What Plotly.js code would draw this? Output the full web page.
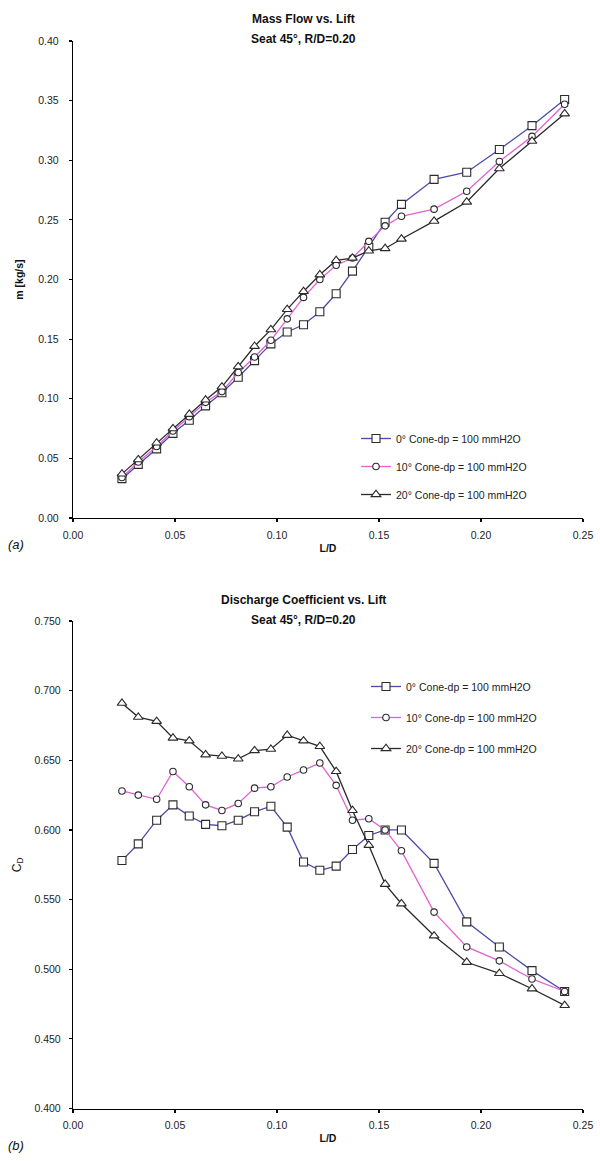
<!DOCTYPE html>
<html>
<head>
<meta charset="utf-8">
<script src="https://cdn.plot.ly/plotly-3.0.1.min.js"></script>
<style>
  html, body { margin: 0; padding: 0; background: #fff; }
  #chart { width: 600px; height: 1161px; }
</style>
</head>
<body>
<div id="chart"></div>
<script>
// ---- data ----
const liftRatio = [0.024,0.032,0.041,0.049,0.057,0.065,0.073,0.081,0.089,0.097,0.105,0.113,0.121,0.129,0.137,0.145,0.153,0.161,0.177,0.193,0.209,0.225,0.241];

const massFlow0  = [0.033,0.045,0.058,0.071,0.082,0.094,0.105,0.118,0.132,0.146,0.156,0.162,0.173,0.188,0.207,0.227,0.248,0.263,0.284,0.290,0.309,0.329,0.351];
const massFlow10 = [0.034,0.047,0.060,0.073,0.085,0.097,0.106,0.122,0.135,0.149,0.167,0.185,0.200,0.212,0.218,0.232,0.245,0.253,0.259,0.274,0.299,0.320,0.347];
const massFlow20 = [0.037,0.049,0.063,0.075,0.087,0.099,0.110,0.127,0.144,0.158,0.175,0.190,0.204,0.216,0.218,0.224,0.226,0.234,0.249,0.265,0.293,0.316,0.339];

const cd0  = [0.578,0.590,0.607,0.618,0.610,0.604,0.603,0.607,0.613,0.617,0.602,0.577,0.571,0.574,0.586,0.596,0.600,0.600,0.576,0.534,0.516,0.499,0.484];
const cd10 = [0.628,0.625,0.622,0.642,0.631,0.618,0.614,0.619,0.630,0.631,0.638,0.643,0.648,0.632,0.607,0.608,0.600,0.585,0.541,0.516,0.506,0.493,0.484];
const cd20 = [0.691,0.681,0.678,0.666,0.664,0.654,0.653,0.651,0.657,0.658,0.668,0.664,0.660,0.642,0.614,0.589,0.561,0.547,0.524,0.505,0.497,0.486,0.474];

const seriesNames = ['0° Cone-dp = 100 mmH2O', '10° Cone-dp = 100 mmH2O', '20° Cone-dp = 100 mmH2O'];
const xTickVals  = [0.00, 0.05, 0.10, 0.15, 0.20, 0.25];
const yTickVals1 = [0.00, 0.05, 0.10, 0.15, 0.20, 0.25, 0.30, 0.35, 0.40];
const yTickVals2 = [0.400, 0.450, 0.500, 0.550, 0.600, 0.650, 0.700, 0.750];
const titleTop    = ['Mass Flow vs. Lift', 'Seat 45°, R/D=0.20'];
const titleBottom = ['Discharge Coefficient vs. Lift', 'Seat 45°, R/D=0.20'];

// ---- styles ----
const FONT = 'Liberation Sans, Arial, Helvetica, sans-serif';
const lineColors = ['#4b4ba6', '#e062d4', '#2a2a2a'];
const symbols = ['square', 'circle', 'triangle-up'];
const msizes = [8, 6.5, 8.5];

function mk(y, i, xa, ya, lg) {
  return {
    x: liftRatio, y: y, type: 'scatter', mode: 'lines+markers',
    name: seriesNames[i], legend: lg, legendgroup: lg + i,
    xaxis: xa, yaxis: ya,
    line: { color: lineColors[i], width: 1.3 },
    marker: { symbol: symbols[i], size: msizes[i], color: '#ffffff',
              line: { color: '#2b2b2b', width: 1.1 } },
    cliponaxis: false
  };
}

const data = [
  mk(massFlow0, 0, 'x', 'y', 'legend'),
  mk(massFlow10, 1, 'x', 'y', 'legend'),
  mk(massFlow20, 2, 'x', 'y', 'legend'),
  mk(cd0, 0, 'x2', 'y2', 'legend2'),
  mk(cd10, 1, 'x2', 'y2', 'legend2'),
  mk(cd20, 2, 'x2', 'y2', 'legend2')
];

const H = 1161, W = 600;
const px = v => v / W;
const py = v => 1 - v / H;
const xDom = [px(73), px(583)];

function baseAxis(extra) {
  return Object.assign({
    showline: true, linecolor: '#000', linewidth: 1.2,
    ticks: 'outside', ticklen: 3, tickwidth: 1.2, tickcolor: '#000',
    showgrid: false, zeroline: false, fixedrange: true,
    tickfont: { family: FONT, size: 10.5, color: '#222' }
  }, extra);
}
function crossAxis(extra) {
  return Object.assign({
    showline: false, ticks: 'inside', ticklen: 3, tickwidth: 1.2, tickcolor: '#000',
    showticklabels: false, showgrid: false, zeroline: false, fixedrange: true
  }, extra);
}
function titleAnn(text, ycenter) {
  return { text: '<b>' + text + '</b>', xref: 'paper', yref: 'paper',
    x: px(303), y: py(ycenter), xanchor: 'center', yanchor: 'middle', showarrow: false,
    font: { family: FONT, size: 12, color: '#111' } };
}

const layout = {
  width: W, height: H,
  margin: { l: 0, r: 0, t: 0, b: 0 },
  paper_bgcolor: '#fff', plot_bgcolor: '#fff',
  font: { family: FONT, color: '#222' },
  showlegend: true,
  xaxis: baseAxis({ domain: xDom, range: [0, 0.25], tickvals: xTickVals, tickformat: '.2f', anchor: 'y',
    ticklabelstandoff: 4,
    title: { text: '<b>L/D</b>', font: { family: FONT, size: 10.5, color: '#111' }, standoff: 4 } }),
  yaxis: baseAxis({ domain: [py(518), py(41)], range: [0, 0.40], tickvals: yTickVals1, tickformat: '.2f', anchor: 'x',
    ticklabelstandoff: 8,
    title: { text: '<b>m [kg/s]</b>', font: { family: FONT, size: 10.5, color: '#111' }, standoff: 12 } }),
  xaxis2: baseAxis({ domain: xDom, range: [0, 0.25], tickvals: xTickVals, tickformat: '.2f', anchor: 'y2',
    ticklabelstandoff: 4,
    title: { text: '<b>L/D</b>', font: { family: FONT, size: 10.5, color: '#111' }, standoff: 4 } }),
  yaxis2: baseAxis({ domain: [py(1108.5), py(621)], range: [0.40, 0.75], tickvals: yTickVals2, tickformat: '.3f', anchor: 'x2',
    ticklabelstandoff: 6,
    title: { text: 'C<sub>D</sub>', font: { family: FONT, size: 12, color: '#111' }, standoff: 10 } }),
  xaxis3: crossAxis({ domain: xDom, range: [0, 0.25], tickvals: xTickVals, overlaying: 'x', anchor: 'y' }),
  yaxis3: crossAxis({ domain: [py(518), py(41)], range: [0, 0.40], tickvals: yTickVals1, overlaying: 'y', anchor: 'x' }),
  xaxis4: crossAxis({ domain: xDom, range: [0, 0.25], tickvals: xTickVals, overlaying: 'x2', anchor: 'y2' }),
  yaxis4: crossAxis({ domain: [py(1108.5), py(621)], range: [0.40, 0.75], tickvals: yTickVals2, overlaying: 'y2', anchor: 'x2' }),
  legend: {
    x: px(356), y: py(424), xanchor: 'left', yanchor: 'top',
    bgcolor: 'rgba(0,0,0,0)', borderwidth: 0,
    font: { family: FONT, size: 10.5, color: '#222' },
    traceorder: 'grouped', tracegroupgap: 9, itemwidth: 30
  },
  legend2: {
    x: px(366), y: py(672), xanchor: 'left', yanchor: 'top',
    bgcolor: 'rgba(0,0,0,0)', borderwidth: 0,
    font: { family: FONT, size: 10.5, color: '#222' },
    traceorder: 'grouped', tracegroupgap: 12, itemwidth: 30
  },
  annotations: [
    titleAnn(titleTop[0], 19),
    titleAnn(titleTop[1], 39),
    titleAnn(titleBottom[0], 600),
    titleAnn(titleBottom[1], 620),
    { text: '<i>(a)</i>', xref: 'paper', yref: 'paper', x: px(6), y: py(545), xanchor: 'left', yanchor: 'middle',
      showarrow: false, font: { family: FONT, size: 13, color: '#111' } },
    { text: '<i>(b)</i>', xref: 'paper', yref: 'paper', x: px(6), y: py(1145), xanchor: 'left', yanchor: 'middle',
      showarrow: false, font: { family: FONT, size: 13, color: '#111' } }
  ]
};

Plotly.newPlot('chart', data, layout, { staticPlot: true, displayModeBar: false });
</script>
</body>
</html>
